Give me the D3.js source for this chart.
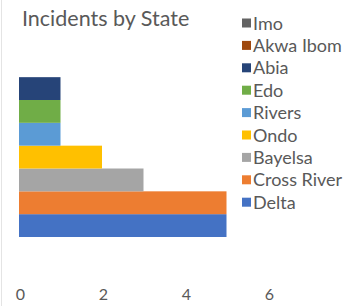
<!DOCTYPE html>
<html>
<head>
<meta charset="utf-8">
<script src="https://cdn.jsdelivr.net/npm/d3@7"></script>
<style>
  body { margin: 0; background: #fff; }
  text { font-family: Lato, "Open Sans", sans-serif; fill: #595959; }
</style>
</head>
<body>
<svg id="chart"></svg>
<script>
var svg_width = 348
var svg_height = 306

// data, bottom to top
var states = ["Delta", "Cross River", "Bayelsa", "Ondo", "Rivers", "Edo", "Abia", "Akwa Ibom", "Imo"]
var incidents = [5, 5, 3, 2, 1, 1, 1, 0, 0]
var colors = ["#4472C4", "#ED7D31", "#A5A5A5", "#FFC000", "#5B9BD5", "#70AD47", "#264478", "#9E480E", "#636363"]
var xticks = [0, 2, 4, 6]

var rows = states.map(function(s, i) { return { state: s, value: incidents[i], color: colors[i] } })

var chart = d3.select("#chart")
  .attr("width", svg_width)
  .attr("height", svg_height)

// faint frame on the left
chart.append("line")
  .attr("x1", 1.5).attr("x2", 1.5)
  .attr("y1", 0).attr("y2", svg_height)
  .attr("stroke", "#e4e4e4")

var x = d3.scaleLinear().domain([0, 6]).range([19, 268])
var y = d3.scaleBand()
  .domain(states.slice().reverse())
  .range([31.5, 237])
  .padding(0)

chart.append("text")
  .attr("x", 22)
  .attr("y", 26)
  .style("font-size", "21.5px")
  .text("Incidents by State")

chart.selectAll("rect.bar")
  .data(rows)
  .enter()
  .append("rect")
  .attr("class", "bar")
  .attr("x", x(0))
  .attr("y", function(d) { return y(d.state) })
  .attr("width", function(d) { return x(d.value) - x(0) })
  .attr("height", y.bandwidth())
  .attr("fill", function(d) { return d.color })

var axis = chart.append("g")
  .attr("transform", "translate(0,300)")
  .call(d3.axisBottom(x).tickValues(xticks).tickFormat(d3.format("d")).tickSize(0).tickPadding(0))
axis.select(".domain").remove()
axis.selectAll("text")
  .attr("dy", 0)
  .attr("x", 1)
  .style("font-size", "16px")
  .style("font-family", "Lato, 'Open Sans', sans-serif")
  .attr("fill", "#595959")

// legend, top to bottom
var legend = chart.selectAll("g.legend")
  .data(rows.slice().reverse())
  .enter()
  .append("g")
  .attr("class", "legend")
  .attr("transform", function(d, i) { return "translate(242," + (23 + i * 22.4) + ")" })

legend.append("rect")
  .attr("x", 0).attr("y", -4.5)
  .attr("width", 9).attr("height", 9)
  .attr("fill", function(d) { return d.color })

legend.append("text")
  .attr("x", 11)
  .attr("y", 6.5)
  .style("font-size", "18px")
  .text(function(d) { return d.state })
</script>
</body>
</html>
